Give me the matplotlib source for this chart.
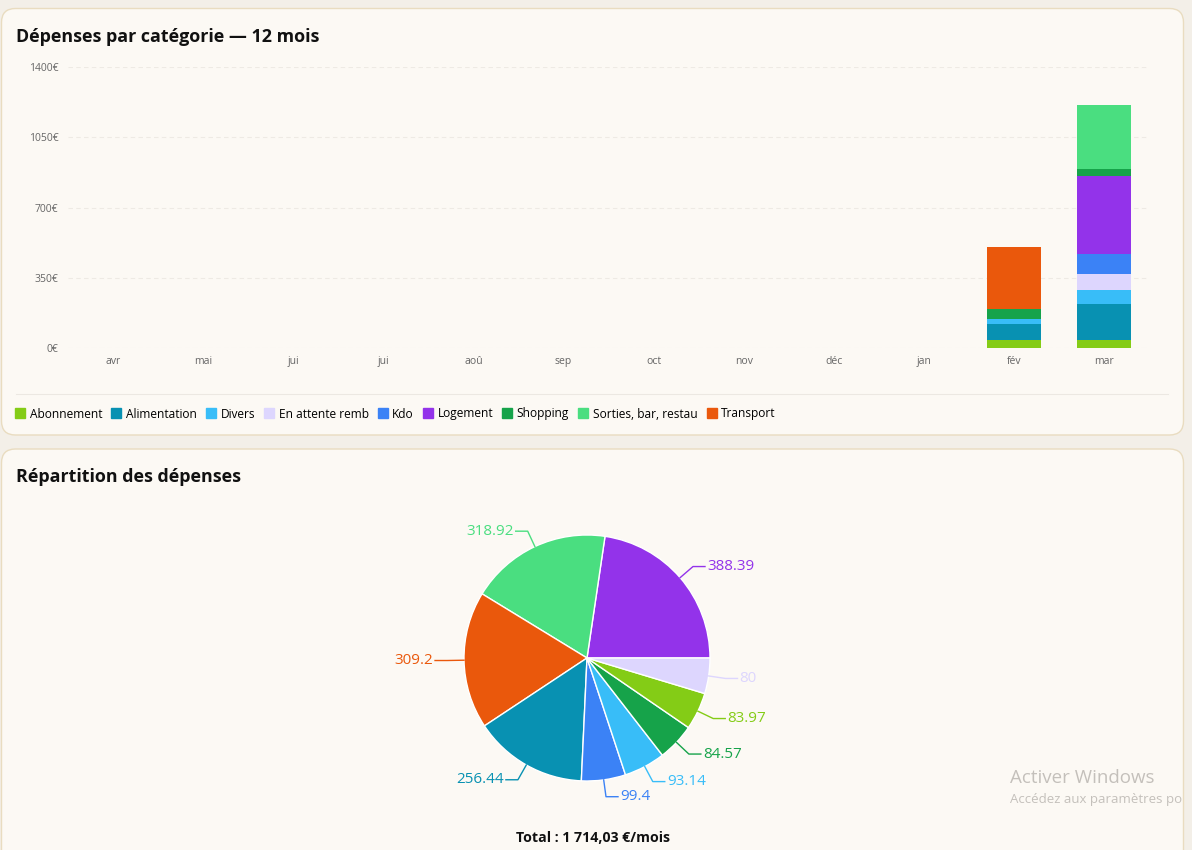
import numpy as np
import matplotlib
matplotlib.use("Agg")
import matplotlib.pyplot as plt
from matplotlib.patches import FancyBboxPatch
from matplotlib.lines import Line2D

plt.rcParams['font.family'] = ['Open Sans', 'DejaVu Sans']

# ---------------- data ----------------
months = ['avr', 'mai', 'jui', 'jui', 'aoû', 'sep', 'oct', 'nov', 'déc', 'jan', 'fév', 'mar']
categories = ['Abonnement', 'Alimentation', 'Divers', 'En attente remb', 'Kdo',
              'Logement', 'Shopping', 'Sorties, bar, restau', 'Transport']
colors = ['#84cc16', '#0891b2', '#38bdf8', '#ddd6fe', '#3b82f6',
          '#9333ea', '#16a34a', '#4ade80', '#ea580c']
# monthly values (only fév and mar are non-zero)
abonnement = [0, 0, 0, 0, 0, 0, 0, 0, 0, 0, 41.99, 41.98]
alimentation = [0, 0, 0, 0, 0, 0, 0, 0, 0, 0, 79.50, 176.94]
divers = [0, 0, 0, 0, 0, 0, 0, 0, 0, 0, 25.00, 68.14]
en_attente = [0, 0, 0, 0, 0, 0, 0, 0, 0, 0, 0, 80.00]
kdo = [0, 0, 0, 0, 0, 0, 0, 0, 0, 0, 0, 99.40]
logement = [0, 0, 0, 0, 0, 0, 0, 0, 0, 0, 0, 388.39]
shopping = [0, 0, 0, 0, 0, 0, 0, 0, 0, 0, 46.00, 38.57]
sorties = [0, 0, 0, 0, 0, 0, 0, 0, 0, 0, 0, 318.92]
transport = [0, 0, 0, 0, 0, 0, 0, 0, 0, 0, 309.20, 0]
series = [abonnement, alimentation, divers, en_attente, kdo, logement, shopping, sorties, transport]
yticks = [0, 350, 700, 1050, 1400]

# pie (order as drawn, counter-clockwise from 3 o'clock)
pie_labels = ['Logement', 'Sorties, bar, restau', 'Transport', 'Alimentation', 'Kdo',
              'Divers', 'Shopping', 'Abonnement', 'En attente remb']
pie_values = [388.39, 318.92, 309.20, 256.44, 99.40, 93.14, 84.57, 83.97, 80.00]
pie_texts = ['388.39', '318.92', '309.2', '256.44', '99.4', '93.14', '84.57', '83.97', '80']

W, H = 1192, 850
fig = plt.figure(figsize=(W / 100, H / 100), dpi=100)
fig.patch.set_facecolor('#f3efe8')

# background axes in pixel coordinates
bg = fig.add_axes([0, 0, 1, 1], zorder=-5)
bg.set_xlim(0, W)
bg.set_ylim(H, 0)
bg.axis('off')
card_fc = '#fcf9f4'
card_ec = '#e9dcc0'
for (x0, y0, x1, y1) in [(1.5, 8.5, 1183.5, 435), (1.5, 449, 1183.5, 880)]:
    bg.add_patch(FancyBboxPatch((x0 + 14, y0 + 14), (x1 - x0) - 28, (y1 - y0) - 28,
                                boxstyle='round,pad=14', fc=card_fc, ec=card_ec, lw=1.0))
bg.plot([16, 1168], [394, 394], color='#ece8e2', lw=0.8)
bg.text(16, 37, 'Dépenses par catégorie — 12 mois', fontsize=12.9, fontweight='bold',
        va='center', ha='left', color='#111111')
bg.text(16, 477, 'Répartition des dépenses', fontsize=12.9, fontweight='bold',
        va='center', ha='left', color='#111111')
total = sum(pie_values)
total_str = f"{total:,.2f}".replace(',', ' ').replace('.', ',')
bg.text(593, 838, f'Total : {total_str} €/mois', fontsize=10.2, fontweight='bold',
        va='center', ha='center', color='#111111')
bg.text(1010, 778, 'Activer Windows', fontsize=13.5, va='center', ha='left', color='#c4c0bb')
bg.text(1010, 800, 'Accédez aux paramètres po', fontsize=9.5,
        va='center', ha='left', color='#c4c0bb')

# ---------------- stacked bar chart ----------------
ax = fig.add_axes([68 / W, 1 - 348 / H, 1081 / W, 281 / H])
ax.set_facecolor('none')
x = np.arange(len(months))
bottom = np.zeros(len(months))
for name, vals, c in zip(categories, series, colors):
    v = np.array(vals, dtype=float)
    ax.bar(x, v, width=0.6, bottom=bottom, color=c, linewidth=0, label=name)
    bottom += v
ax.set_xlim(-0.5, len(months) - 0.5)
ax.set_ylim(0, 1400)
ax.set_yticks(yticks)
ax.set_yticklabels([f'{t}€' for t in yticks])
ax.set_xticks(x)
ax.set_xticklabels(months)
ax.tick_params(axis='both', length=0, labelsize=7.5, colors='#666666')
ax.tick_params(axis='y', pad=7)
ax.tick_params(axis='x', pad=6)
for s in ax.spines.values():
    s.set_visible(False)
ax.grid(axis='y', color='#eeeae4', linestyle=(0, (4, 3)), linewidth=0.8)
ax.set_axisbelow(True)

handles = [Line2D([0], [0], marker='s', linestyle='none', markersize=7.5,
                  markerfacecolor=c, markeredgecolor=c) for c in colors]
fig.legend(handles, categories, loc='center left', bbox_to_anchor=(16 / W, 1 - 414 / H),
           ncol=len(categories), frameon=False, fontsize=8.6, handlelength=0.7,
           handletextpad=0.45, columnspacing=0.83, borderaxespad=0, borderpad=0)

# ---------------- pie chart ----------------
R = 123.0
cx, cy = 587, 658
hw, hh = 260, 200
pax = fig.add_axes([(cx - hw) / W, 1 - (cy + hh) / H, 2 * hw / W, 2 * hh / H])
pie_colors = [colors[categories.index(l)] for l in pie_labels]
wedges, _ = pax.pie(pie_values, colors=pie_colors, startangle=0, counterclock=True,
                    radius=1.0, wedgeprops=dict(edgecolor='white', linewidth=1.0))
pax.set_xlim(-hw / R, hw / R)
pax.set_ylim(-hh / R, hh / R)
pax.set_aspect('equal')
pax.axis('off')
l1 = 17 / R
l2 = 12 / R
for w, txt, c in zip(wedges, pie_texts, pie_colors):
    th = np.deg2rad((w.theta1 + w.theta2) / 2)
    p0 = np.array([np.cos(th), np.sin(th)])
    p1 = (1 + l1) * p0
    sgn = 1 if np.cos(th) >= 0 else -1
    p2 = p1 + np.array([sgn * l2, 0])
    pax.plot([p0[0], p1[0], p2[0]], [p0[1], p1[1], p2[1]], color=c, lw=1.0)
    pax.text(p2[0] + sgn * 2 / R, p2[1], txt, color=c, fontsize=11,
             ha='left' if sgn > 0 else 'right', va='center')

fig.savefig('out.png', dpi=100, facecolor=fig.get_facecolor())
